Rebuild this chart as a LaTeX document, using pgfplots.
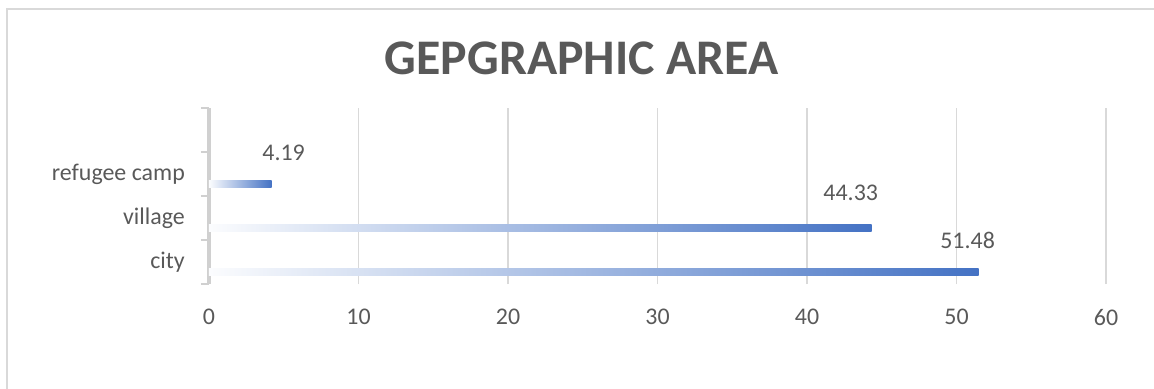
\documentclass[border=0pt]{standalone}
\usepackage{pgfplots}
\pgfplotsset{compat=1.18}
\usepackage{fontspec}
\setmainfont{Carlito}
\definecolor{barblue}{HTML}{4472C4}
\definecolor{gridgray}{HTML}{D9D9D9}
\definecolor{axgray}{HTML}{D0D0D0}
\definecolor{txtgray}{HTML}{595959}
\begin{document}
\begin{tikzpicture}[x=1bp,y=1bp]
\useasboundingbox (-209,-104) rectangle (945,284);
\draw[gridgray, line width=1.5bp] (-202,-110) -- (-202,275) -- (950,275);
\begin{axis}[
  at={(0,0)}, anchor=south west,
  scale only axis, width=897bp, height=176bp,
  xmin=0, xmax=60, ymin=-0.5, ymax=3.5,
  axis lines*=left,
  axis on top=false,
  x axis line style={draw=none},
  y axis line style={axgray, line width=4bp},
  xtick={0,10,...,60},
  xtick style={draw=none},
  xmajorgrids,
  grid style={gridgray, line width=1.5bp},
  ytick={0,1,2},
  yticklabels={city,village,refugee camp},
  minor ytick={-0.5,0.5,1.5,2.5,3.5},
  ytick style={axgray, line width=2bp},
  major tick length=0pt,
  minor tick length=8bp,
  tick align=outside,
  tick label style={font=\fontsize{24}{24}\selectfont, text=txtgray},
  /pgf/number format/assume math mode=true,
  xticklabel style={inner sep=0pt, anchor=north, yshift=-25bp},
  yticklabel style={inner sep=0pt, anchor=east, xshift=-24bp},
  point meta=x,
  nodes near coords={\pgfmathprintnumber[fixed,precision=2,fixed zerofill]{\pgfplotspointmeta}},
  every node near coord/.append style={font=\fontsize{24}{24}\selectfont, text=txtgray, anchor=center},
  clip=false,
]
\addplot[xbar, bar width=7bp, bar shift=-9.5bp, draw=none, left color=barblue!2, right color=barblue,
  every node near coord/.append style={xshift=-11bp, yshift=22bp}]
  coordinates {(51.48,0)};
\addplot[xbar, bar width=7bp, bar shift=-9.5bp, draw=none, left color=barblue!2, right color=barblue,
  every node near coord/.append style={xshift=-21bp, yshift=25bp}]
  coordinates {(44.33,1)};
\addplot[xbar, bar width=7bp, bar shift=-9.5bp, draw=none, left color=barblue!2, right color=barblue,
  every node near coord/.append style={xshift=12bp, yshift=21bp}]
  coordinates {(4.19,2)};
\end{axis}
\node[font=\fontsize{50}{50}\selectfont\bfseries, text=txtgray] at (581.5-209,226) {GEPGRAPHIC AREA};
\end{tikzpicture}
\end{document}
